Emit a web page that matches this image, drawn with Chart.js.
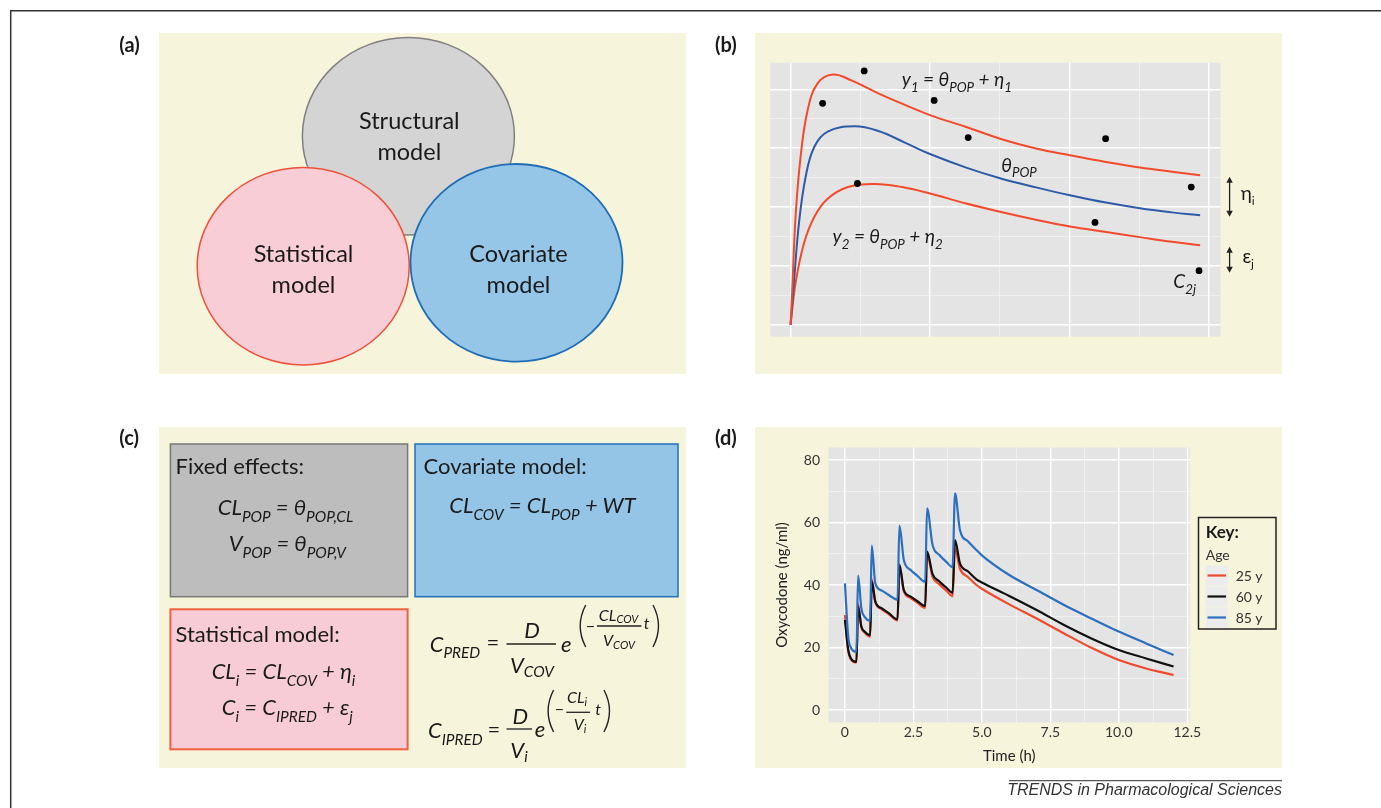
<!DOCTYPE html>
<html>
<head>
<meta charset="utf-8">
<script src="https://cdn.jsdelivr.net/npm/chart.js@4.4.1/dist/chart.umd.min.js"></script>
<style>
  html, body { margin: 0; padding: 0; background: #fff; }
  body { width: 1381px; height: 808px; position: relative; overflow: hidden; font-family: Lato, "Noto Sans", sans-serif; }
  .panel { position: absolute; background: #f7f4dc; }
  canvas { position: absolute; }
  #overlay { position: absolute; left: 0; top: 0; pointer-events: none; }
</style>
</head>
<body>
<div class="panel" style="left:159px;top:33px;width:527px;height:341px"></div>
<div class="panel" style="left:755px;top:33px;width:527px;height:341px"></div>
<div class="panel" style="left:159px;top:427px;width:527px;height:341px"></div>
<div class="panel" style="left:755px;top:427px;width:527px;height:341px"></div>
<canvas id="chartB" width="527" height="341" style="left:755px;top:33px"></canvas>
<canvas id="chartD" width="527" height="341" style="left:755px;top:427px"></canvas>
<svg id="overlay" width="1381" height="808"></svg>

<script>
// (b) schematic: population curve, two individuals, observations
const popT = [0, 0.12, 0.30, 0.54, 0.85, 1.33, 2.30, 3.15, 4.12, 5.0, 6.30, 7.51, 8.84, 10.02, 11.26, 12.53, 13.68, 14.69];
const popC = [0, 0.71, 1.72, 2.51, 3.02, 3.28, 3.37, 3.29, 3.09, 2.90, 2.67, 2.49, 2.33, 2.20, 2.08, 1.98, 1.91, 1.86];
const indiv1T = [0, 0.06, 0.18, 0.36, 0.61, 0.97, 1.51, 2.18, 3.15, 4.12, 5.0, 6.30, 7.51, 8.84, 10.02, 11.26, 12.53, 13.68, 14.69];
const indiv1C = [0, 0.59, 1.84, 2.85, 3.64, 4.10, 4.25, 4.15, 3.93, 3.73, 3.56, 3.36, 3.16, 2.99, 2.88, 2.77, 2.67, 2.60, 2.54];
const indiv2T = [0, 0.18, 0.48, 0.85, 1.33, 2.06, 3.03, 4.0, 5.0, 6.30, 7.51, 8.84, 10.02, 11.26, 12.53, 13.68, 14.69];
const indiv2C = [0, 0.71, 1.38, 1.83, 2.14, 2.34, 2.39, 2.34, 2.23, 2.06, 1.92, 1.78, 1.67, 1.58, 1.49, 1.41, 1.35];
const obsT = [2.64, 1.15, 5.15, 6.37, 11.30, 2.40, 14.37, 10.92, 14.65];
const obsC = [4.31, 3.76, 3.81, 3.18, 3.16, 2.40, 2.34, 1.74, 0.92];
const bTimeMajor = [0, 5, 10, 15];
const bTimeMinor = [2.5, 7.5, 12.5];
const bConcMajor = [0, 1, 2, 3, 4];
const bConcMinor = [0.5, 1.5, 2.5, 3.5];

// (d) oxycodone concentrations by age
const timeH = [0, 0.12, 0.22, 0.42, 0.48, 0.6, 0.72, 0.92, 0.98, 1.11, 1.35, 1.6, 1.92, 1.99, 2.15, 2.4, 2.65, 2.93,
  3.0, 3.2, 3.45, 3.7, 3.93, 4.02, 4.2, 4.5, 4.8, 5, 6, 7, 8, 9, 10, 11, 12];
const conc25y = [30.4, 19.0, 16.2, 15.2, 33.9, 26.5, 24.8, 23.5, 41.9, 34.5, 32.2, 30.7, 28.7, 46.6, 38.0, 35.8, 34.3, 32.7,
  49.9, 42.6, 40.2, 38.2, 36.4, 51.7, 45.2, 42.5, 40.0, 38.8, 33.8, 29.3, 24.5, 19.9, 16.0, 13.3, 11.2];
const conc60y = [28.8, 19.2, 16.5, 15.4, 33.1, 26.7, 25.1, 23.9, 41.1, 34.7, 32.5, 31.0, 29.0, 46.4, 38.4, 36.3, 34.8, 33.3,
  50.7, 43.5, 41.1, 39.2, 37.5, 54.4, 46.9, 44.3, 41.8, 40.8, 36.5, 32.0, 27.2, 22.9, 19.2, 16.5, 13.9];
const conc85y = [40.5, 23.5, 19.9, 18.6, 43.0, 32.5, 29.8, 28.6, 52.6, 40.5, 38.2, 36.8, 35.3, 59.0, 48.0, 44.8, 42.9, 41.0,
  64.5, 52.8, 49.6, 47.4, 45.7, 69.3, 57.6, 53.9, 51.2, 49.5, 43.2, 38.4, 33.6, 29.3, 25.1, 21.3, 17.6];
const ageGroups = ["25 y", "60 y", "85 y"];
const ageColors = ["#ef4a2e", "#111111", "#2d6fbf"];
const timeMajor = [0, 2.5, 5, 7.5, 10, 12.5];
const timeLabels = ["0", "2.5", "5.0", "7.5", "10.0", "12.5"];
const timeMinor = [1.25, 3.75, 6.25, 8.75, 11.25];
const concMajor = [0, 20, 40, 60, 80];
const concMinor = [10, 30, 50, 70];

const FONT = "Lato, 'Noto Sans', sans-serif";
Chart.defaults.font.family = FONT;

const pts = (xs, ys) => xs.map((x, i) => ({ x, y: ys[i] }));
const setTicks = (major, minor) => (s) => {
  s.ticks = major.concat(minor).sort((a, b) => a - b).map((v) => ({ value: v }));
};
const gridOf = (major) => ({
  drawTicks: false,
  color: (c) => (major.includes(c.tick.value) ? "#ffffff" : "rgba(255,255,255,0.55)"),
  lineWidth: (c) => (major.includes(c.tick.value) ? 1.4 : 0.8),
});

const plotBg = {
  id: "plotBg",
  beforeDraw(chart) {
    const { ctx, chartArea: a } = chart;
    ctx.save();
    ctx.fillStyle = "#e4e4e4";
    ctx.fillRect(a.left, a.top, a.width, a.height);
    ctx.restore();
  },
};

const line = (data, color, order) => ({
  data, borderColor: color, borderWidth: 2, pointRadius: 0, showLine: true,
  tension: 0.4, order,
});

new Chart(document.getElementById("chartB"), {
  type: "scatter",
  data: {
    datasets: [
      { data: pts(obsT, obsC), pointRadius: 3.4, pointBackgroundColor: "#000", pointBorderWidth: 0, showLine: false, order: 0 },
      line(pts(indiv1T, indiv1C), "#f24a2a", 1),
      line(pts(popT, popC), "#2d5ba8", 2),
      line(pts(indiv2T, indiv2C), "#f24a2a", 3),
    ],
  },
  options: {
    responsive: false,
    animation: false,
    events: [],
    layout: { padding: { left: 15.2, right: 61.5, top: 29.7, bottom: 37.3 } },
    plugins: { legend: { display: false }, tooltip: { enabled: false } },
    scales: {
      x: {
        type: "linear", min: -0.73, max: 15.42,
        afterBuildTicks: setTicks(bTimeMajor, bTimeMinor),
        afterFit: (s) => { s.height = 0; },
        ticks: { display: false },
        grid: gridOf(bTimeMajor),
        border: { display: false },
      },
      y: {
        type: "linear", min: -0.2, max: 4.45,
        afterBuildTicks: setTicks(bConcMajor, bConcMinor),
        afterFit: (s) => { s.width = 0; },
        ticks: { display: false },
        grid: gridOf(bConcMajor),
        border: { display: false },
      },
    },
  },
  plugins: [plotBg],
});

const concSeries = [conc25y, conc60y, conc85y];
new Chart(document.getElementById("chartD"), {
  type: "scatter",
  data: {
    datasets: ageGroups.map((name, i) => ({
      label: name,
      data: pts(timeH, concSeries[i]),
      borderColor: ageColors[i],
      borderWidth: 2.2,
      pointRadius: 0,
      showLine: true,
      cubicInterpolationMode: "monotone",
      order: 3 - i,
    })),
  },
  options: {
    responsive: false,
    animation: false,
    events: [],
    layout: { padding: { left: 0, right: 92, top: 20.5, bottom: 0 } },
    plugins: { legend: { display: false }, tooltip: { enabled: false } },
    scales: {
      x: {
        type: "linear", min: -0.6, max: 12.6,
        afterBuildTicks: setTicks(timeMajor, timeMinor),
        afterFit: (s) => { s.height = 45.5; },
        ticks: {
          autoSkip: false, maxRotation: 0, padding: 2, color: "#333", font: { size: 14 },
          callback: (v) => { const k = timeMajor.indexOf(v); return k < 0 ? "" : timeLabels[k]; },
        },
        grid: gridOf(timeMajor),
        border: { display: false },
        title: { display: true, text: "Time (h)", color: "#222", font: { size: 15 }, padding: { top: 0, bottom: 3 } },
      },
      y: {
        type: "linear", min: -4, max: 84,
        afterBuildTicks: setTicks(concMajor, concMinor),
        afterFit: (s) => { s.width = 73.5; },
        ticks: {
          autoSkip: false, padding: 8.5, color: "#333", font: { size: 14 },
          callback: (v) => (concMajor.includes(v) ? String(v) : ""),
        },
        grid: gridOf(concMajor),
        border: { display: false },
        title: { display: true, text: "Oxycodone (ng/ml)", color: "#222", font: { size: 15 }, padding: { top: 18.5, bottom: 0 } },
      },
    },
  },
  plugins: [plotBg],
});

// ---- overlay drawing: diagrams, equations, labels ----
const NS = "http://www.w3.org/2000/svg";
const svg = document.getElementById("overlay");
function el(tag, attrs, parent = svg) {
  const e = document.createElementNS(NS, tag);
  for (const k in attrs) e.setAttribute(k, attrs[k]);
  parent.appendChild(e);
  return e;
}
function txt(str, x, y, size, o = {}) {
  const t = el("text", {
    x, y, "font-size": size, fill: o.fill || "#1a1a1a",
    "text-anchor": o.anchor || "start",
    "font-style": o.italic ? "italic" : "normal",
    "font-weight": o.bold ? "bold" : "normal",
    "font-family": o.family || FONT,
  });
  t.style.whiteSpace = "pre";
  const sub = o.sub || size * 0.7;
  const shift = o.shift != null ? o.shift : size * 0.3;
  let down = false;
  str.split(/(_\{[^}]*\})/).forEach((p) => {
    if (!p) return;
    const s = el("tspan", {}, t);
    if (p.startsWith("_{")) {
      s.textContent = p.slice(2, -1);
      s.setAttribute("font-size", sub);
      s.setAttribute("dy", shift);
      down = true;
    } else {
      s.textContent = p;
      if (down) { s.setAttribute("dy", -shift); down = false; }
    }
  });
  return t;
}
const I = { italic: true };
const IM = { italic: true, anchor: "middle" };
const hbar = (x1, x2, y) => el("line", { x1, x2, y1: y, y2: y, stroke: "#222", "stroke-width": 1.3 });
const paren = (x, y1, y2, dir) => el("path", {
  d: `M ${x} ${y1} Q ${x - dir * 11} ${(y1 + y2) / 2} ${x} ${y2}`, stroke: "#222", "stroke-width": 1.4, fill: "none",
});
function arrow(x, y1, y2) {
  el("line", { x1: x, x2: x, y1: y1 + 4, y2: y2 - 4, stroke: "#222", "stroke-width": 1.3 });
  el("path", { d: `M ${x} ${y1} L ${x - 3.2} ${y1 + 6} L ${x + 3.2} ${y1 + 6} Z`, fill: "#222" });
  el("path", { d: `M ${x} ${y2} L ${x - 3.2} ${y2 - 6} L ${x + 3.2} ${y2 - 6} Z`, fill: "#222" });
}

// frame and panel letters
el("path", { d: "M 10.7 808 V 10.7 H 1381", stroke: "#333", "stroke-width": 1.5, fill: "none" });
txt("(a)", 119.3, 51.7, 20, { bold: true });
txt("(b)", 715, 51.7, 20, { bold: true });
txt("(c)", 119.3, 445, 20, { bold: true });
txt("(d)", 715, 445, 20, { bold: true });

// (a) three model components
el("ellipse", { cx: 408.4, cy: 136.2, rx: 106, ry: 98.8, fill: "#d4d4d4", stroke: "#808080", "stroke-width": 1.5 });
el("ellipse", { cx: 303.2, cy: 266.2, rx: 106, ry: 98.8, fill: "#f8cdd6", stroke: "#ef5038", "stroke-width": 1.5 });
el("ellipse", { cx: 516.5, cy: 262.8, rx: 106, ry: 98.8, fill: "#95c6e7", stroke: "#1f6db5", "stroke-width": 1.8 });
txt("Structural", 409.3, 129, 23.5, { anchor: "middle" });
txt("model", 409.3, 160, 23.5, { anchor: "middle" });
txt("Statistical", 303.5, 261.7, 23.5, { anchor: "middle" });
txt("model", 303.5, 293.3, 23.5, { anchor: "middle" });
txt("Covariate", 518.5, 261.7, 23.5, { anchor: "middle" });
txt("model", 518.5, 293.3, 23.5, { anchor: "middle" });

// (b) annotations
txt("y_{1} = θ_{POP} + η_{1}", 901.8, 86, 19, I);
txt("θ_{POP}", 1001.3, 171.7, 19, I);
txt("y_{2} = θ_{POP} + η_{2}", 832.6, 243.3, 19, I);
txt("C_{2j}", 1173.3, 288.3, 19, I);
arrow(1229.6, 176.7, 216.7);
arrow(1229.6, 246.7, 272.7);
txt("η_{i}", 1240.7, 200, 19, { sub: 12, shift: 5 });
txt("ε_{j}", 1242.4, 263.3, 19, { sub: 12, shift: 5 });

// (c) equations
el("rect", { x: 170.4, y: 444, width: 237.2, height: 152.7, fill: "#bdbdbe", stroke: "#777", "stroke-width": 1.5 });
el("rect", { x: 415, y: 444, width: 263, height: 152.7, fill: "#94c5e6", stroke: "#2170b8", "stroke-width": 1.5 });
el("rect", { x: 170.4, y: 609.3, width: 237.2, height: 140, fill: "#f8ccd6", stroke: "#f0603c", "stroke-width": 2 });
txt("Fixed effects:", 175.5, 474.3, 22);
txt("CL_{POP} = θ_{POP,CL}", 285.5, 515, 22, IM);
txt("V_{POP} = θ_{POP,V}", 287.3, 551, 22, IM);
txt("Covariate model:", 423.6, 474.3, 22);
txt("CL_{COV} = CL_{POP} + WT", 542.4, 513.3, 22, IM);
txt("Statistical model:", 175.5, 642.3, 22);
txt("CL_{i} = CL_{COV} + η_{i}", 283.5, 679, 22, IM);
txt("C_{i} = C_{IPRED} + ε_{j}", 287.3, 715, 22, IM);

txt("C_{PRED}", 429.7, 651.7, 22, I);
txt("=", 493, 650, 22, { anchor: "middle" });
hbar(506.5, 556, 644);
txt("D", 532.1, 638.3, 22, IM);
txt("V_{COV}", 532, 673.3, 22, { italic: true, anchor: "middle", shift: 4 });
txt("e", 566.3, 651.7, 22, IM);
paren(585.7, 605, 647, 1);
txt("−", 590.5, 631.5, 16, { anchor: "middle" });
txt("CL_{COV}", 618.6, 621, 16, { italic: true, anchor: "middle", shift: 1.5 });
hbar(597, 641.4, 626);
txt("V_{COV}", 619, 645.7, 16, { italic: true, anchor: "middle", shift: 3 });
txt("t", 646.5, 629, 16, IM);
paren(653, 605, 647, -1);

txt("C_{IPRED}", 428, 738.3, 22, I);
txt("=", 494, 737, 22, { anchor: "middle" });
hbar(506.5, 532.1, 729);
txt("D", 520.2, 724.3, 22, IM);
txt("V_{i}", 519, 758.3, 22, { italic: true, anchor: "middle", shift: 4 });
txt("e", 540, 736.7, 22, IM);
paren(553.6, 690, 732, 1);
txt("−", 559.4, 714.8, 16, { anchor: "middle" });
txt("CL_{i}", 577, 703, 16, { italic: true, anchor: "middle", shift: 2.5 });
hbar(566.3, 590.1, 712.3);
txt("V_{i}", 580, 730, 16, { italic: true, anchor: "middle", shift: 3 });
txt("t", 598, 715, 16, IM);
paren(604, 690, 732, -1);

// (d) key, built from the series names and colours
el("rect", { x: 1198.5, y: 517.5, width: 77.5, height: 111.5, fill: "#f7f4dc", stroke: "#222", "stroke-width": 1.5 });
txt("Key:", 1205.7, 538.3, 17, { bold: true });
txt("Age", 1205.7, 560, 14, { fill: "#333" });
ageGroups.forEach((name, i) => {
  const cy = 575.5 + i * 21;
  el("rect", { x: 1205.7, y: cy - 10, width: 22, height: 20, fill: "#ececec" });
  el("line", { x1: 1207.5, x2: 1226, y1: cy, y2: cy, stroke: ageColors[i], "stroke-width": 2.2 });
  txt(name, 1235.7, cy + 5, 14, { fill: "#333" });
});

// source line
el("line", { x1: 1009, x2: 1282, y1: 780.7, y2: 780.7, stroke: "#555", "stroke-width": 1.2 });
txt("TRENDS in Pharmacological Sciences", 1282, 794.5, 16, { italic: true, anchor: "end", family: "'Liberation Sans', Arial, sans-serif", fill: "#333" });
</script>
</body>
</html>
